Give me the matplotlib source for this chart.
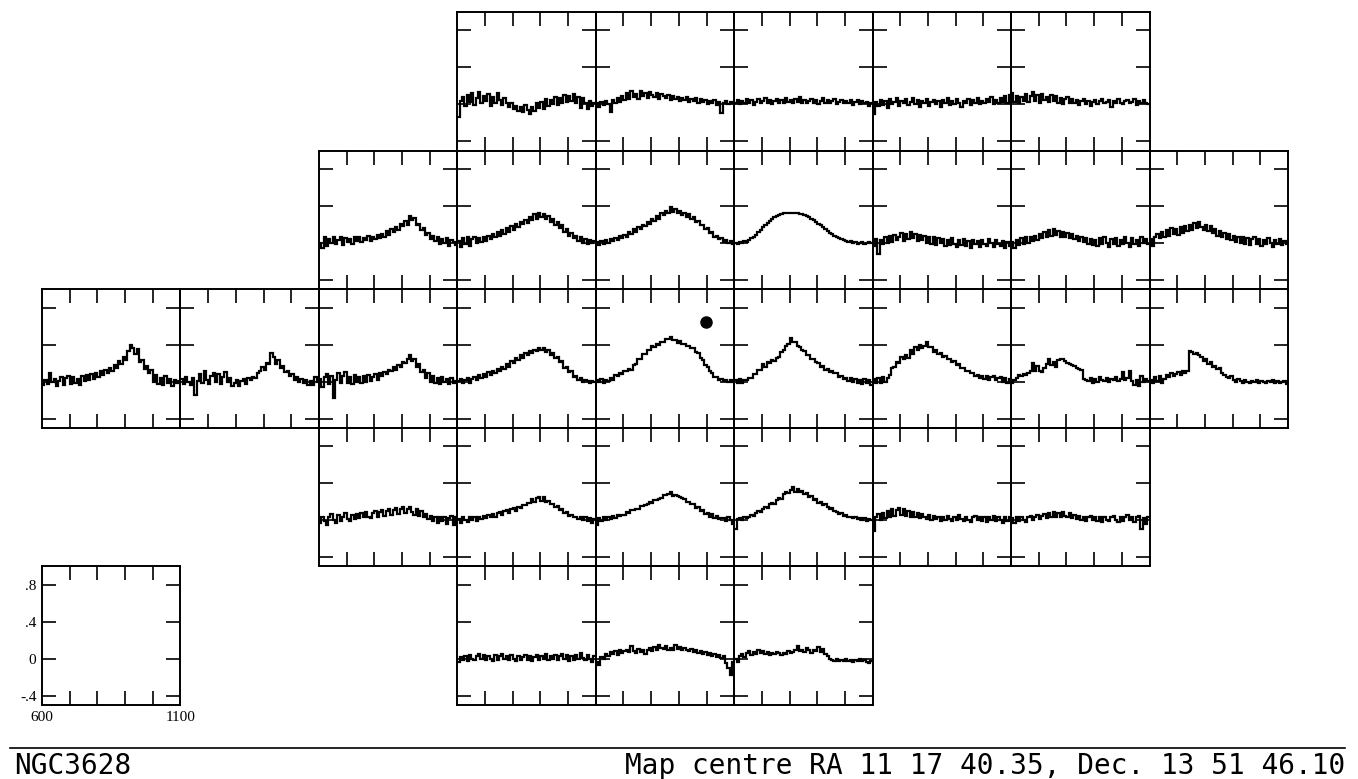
import numpy as np
import matplotlib
matplotlib.use("Agg")
import matplotlib.pyplot as plt
from matplotlib.lines import Line2D

# ---------------- data (antenna temperature per channel, 600-1100 km/s) ----------------
v_min, v_max = 600, 1100
x_ticks = [700, 800, 900, 1000]
y_ticks = [-0.4, 0.0, 0.4, 0.8]
y_tick_labels = ["-.4", "0", ".4", ".8"]
x_label_left, x_label_right = "600", "1100"
title_left = "NGC3628"
title_right = "Map centre RA 11 17 40.35, Dec. 13 51 46.10"
centre_marker = (998, 0.65)   # map-centre dot in central panel

spec_r0_c3 = [-0.14, 0.04, 0.08, -0.02, 0.10, 0.03, 0.12, -0.01, 0.07, 0.13, 0.02, 0.09, 0.04, 0.11, -0.02, 0.08, 0.02, 0.12, 0.05, -0.01, 0.07, 0.01, -0.03, 0.02, -0.05, -0.02, -0.07, -0.03, -0.08, -0.01, -0.06, -0.10, -0.03, -0.07, 0.01, -0.04, 0.03, -0.05, 0.06, -0.02, 0.05, 0.00, 0.08, -0.01, 0.07, 0.02, 0.10, 0.03, 0.09, 0.04, 0.11, 0.02, 0.08, -0.04, 0.07, 0.01, -0.05, 0.04, -0.02, 0.02]
spec_r0_c4 = [0.01, -0.03, 0.03, -0.01, 0.04, 0.00, -0.08, 0.05, 0.02, 0.07, 0.03, 0.09, 0.05, 0.12, 0.06, 0.14, 0.08, 0.11, 0.06, 0.15, 0.09, 0.12, 0.07, 0.13, 0.10, 0.08, 0.12, 0.06, 0.11, 0.09, 0.07, 0.10, 0.05, 0.09, 0.06, 0.08, 0.04, 0.07, 0.05, 0.08, 0.03, 0.06, 0.04, 0.07, 0.02, 0.06, 0.03, 0.05, 0.00, 0.04, 0.02, 0.05, -0.01, 0.03, -0.09, 0.02, 0.04, 0.00, 0.03, 0.01]
spec_r0_c5 = [0.02, 0.05, 0.00, 0.04, 0.01, 0.06, 0.02, 0.05, -0.01, 0.03, 0.06, 0.01, 0.04, 0.07, 0.02, 0.05, 0.00, 0.04, 0.06, 0.01, 0.05, 0.02, 0.07, 0.03, 0.05, 0.01, 0.06, 0.03, 0.08, 0.02, 0.05, 0.01, 0.04, 0.06, 0.02, 0.05, 0.00, 0.04, 0.07, 0.02, 0.05, 0.01, 0.04, 0.06, 0.00, 0.03, 0.05, 0.01, 0.04, 0.02, 0.05, -0.01, 0.03, 0.05, 0.00, 0.04, 0.01, 0.03, -0.02, 0.02]
spec_r0_c6 = [-0.10, 0.03, -0.02, 0.05, -0.01, 0.04, -0.04, 0.06, 0.00, 0.03, 0.07, -0.02, 0.04, 0.01, 0.06, -0.01, 0.03, 0.07, 0.00, 0.05, -0.03, 0.04, 0.01, 0.06, -0.02, 0.03, 0.05, 0.00, 0.04, -0.03, 0.05, 0.02, 0.07, -0.01, 0.04, 0.00, 0.06, 0.02, -0.03, 0.04, 0.01, 0.06, -0.01, 0.05, 0.02, 0.07, 0.00, 0.04, 0.01, 0.06, 0.03, 0.08, 0.00, 0.05, 0.02, 0.07, 0.03, 0.09, 0.02, 0.10]
spec_r0_c7 = [0.12, 0.03, 0.09, 0.02, 0.08, 0.04, 0.11, 0.03, 0.09, 0.13, 0.04, 0.10, 0.02, 0.11, 0.05, 0.08, 0.03, 0.10, 0.04, 0.09, 0.02, 0.07, 0.00, 0.06, 0.08, 0.01, 0.06, 0.02, 0.05, -0.01, 0.04, 0.06, 0.00, 0.04, -0.02, 0.03, 0.05, 0.00, 0.04, 0.06, 0.01, 0.03, 0.05, -0.03, 0.04, 0.01, 0.06, 0.02, 0.00, 0.04, 0.05, 0.01, 0.03, 0.06, -0.01, 0.04, 0.01, 0.05, 0.02, 0.00]

spec_r1_c2 = [0.00, -0.05, 0.06, -0.03, 0.04, 0.00, 0.07, -0.01, 0.03, 0.06, -0.02, 0.05, 0.01, 0.04, -0.01, 0.06, 0.02, 0.07, 0.01, 0.05, 0.03, 0.08, 0.02, 0.06, 0.04, 0.09, 0.05, 0.10, 0.07, 0.13, 0.09, 0.15, 0.12, 0.17, 0.14, 0.21, 0.18, 0.24, 0.20, 0.29, 0.25, 0.27, 0.19, 0.21, 0.14, 0.16, 0.09, 0.11, 0.04, 0.08, 0.02, 0.06, -0.01, 0.04, 0.00, 0.05, -0.03, 0.03, 0.01, -0.02]
spec_r1_c3 = [0.02, -0.04, 0.05, -0.01, 0.06, -0.03, 0.04, 0.07, 0.00, 0.05, 0.01, 0.06, 0.02, 0.08, 0.04, 0.10, 0.06, 0.12, 0.08, 0.14, 0.10, 0.16, 0.12, 0.18, 0.14, 0.21, 0.17, 0.23, 0.21, 0.25, 0.22, 0.28, 0.25, 0.31, 0.26, 0.33, 0.28, 0.31, 0.26, 0.29, 0.23, 0.26, 0.20, 0.23, 0.16, 0.19, 0.12, 0.15, 0.08, 0.11, 0.05, 0.08, 0.02, 0.06, 0.00, 0.04, -0.01, 0.03, 0.00, 0.02]
spec_r1_c4 = [0.01, -0.02, 0.02, -0.01, 0.03, 0.00, 0.04, 0.02, 0.05, 0.03, 0.08, 0.05, 0.09, 0.07, 0.12, 0.10, 0.15, 0.12, 0.17, 0.15, 0.20, 0.18, 0.23, 0.21, 0.26, 0.24, 0.29, 0.26, 0.32, 0.30, 0.35, 0.32, 0.39, 0.34, 0.37, 0.32, 0.35, 0.30, 0.33, 0.28, 0.31, 0.26, 0.28, 0.23, 0.24, 0.19, 0.20, 0.15, 0.16, 0.11, 0.12, 0.07, 0.08, 0.04, 0.05, 0.01, 0.03, 0.00, 0.02, -0.01]
spec_r1_c5 = [0.00, -0.01, 0.01, 0.00, 0.02, 0.01, 0.03, 0.05, 0.07, 0.09, 0.12, 0.14, 0.17, 0.19, 0.22, 0.24, 0.26, 0.28, 0.29, 0.30, 0.31, 0.32, 0.32, 0.33, 0.33, 0.32, 0.33, 0.32, 0.31, 0.31, 0.30, 0.29, 0.28, 0.26, 0.25, 0.23, 0.21, 0.19, 0.17, 0.15, 0.13, 0.11, 0.10, 0.08, 0.06, 0.05, 0.04, 0.03, 0.02, 0.01, 0.02, 0.00, 0.01, -0.01, 0.00, 0.01, -0.01, 0.00, 0.01, 0.00]
spec_r1_c6 = [-0.03, 0.04, -0.12, 0.03, -0.01, 0.06, 0.00, 0.08, 0.01, 0.09, 0.03, 0.07, 0.11, 0.02, 0.10, 0.04, 0.12, 0.05, 0.10, 0.02, 0.09, 0.03, 0.08, 0.00, 0.07, -0.01, 0.06, -0.02, 0.05, 0.00, 0.04, -0.03, 0.03, -0.02, 0.05, -0.01, -0.04, 0.03, -0.02, 0.04, -0.03, 0.02, -0.05, 0.03, -0.01, 0.02, -0.04, 0.03, -0.01, -0.03, 0.04, 0.00, -0.04, 0.03, -0.01, -0.03, 0.02, -0.05, 0.01, -0.03]
spec_r1_c7 = [0.01, -0.05, 0.03, -0.02, 0.05, -0.01, 0.06, 0.00, 0.07, 0.02, 0.08, 0.03, 0.10, 0.05, 0.12, 0.06, 0.14, 0.08, 0.15, 0.09, 0.13, 0.07, 0.12, 0.06, 0.11, 0.05, 0.10, 0.04, 0.08, 0.02, 0.07, 0.01, 0.05, -0.01, 0.04, -0.02, 0.03, -0.03, 0.05, -0.01, 0.06, 0.00, -0.04, 0.04, -0.01, 0.05, -0.03, 0.03, -0.01, 0.06, 0.00, -0.04, 0.05, -0.01, 0.03, -0.03, 0.07, 0.00, 0.04, -0.01]
spec_r1_c8 = [0.04, -0.03, 0.07, 0.10, 0.05, 0.12, 0.06, 0.14, 0.08, 0.16, 0.10, 0.15, 0.09, 0.17, 0.11, 0.18, 0.13, 0.20, 0.14, 0.22, 0.16, 0.23, 0.17, 0.14, 0.20, 0.13, 0.18, 0.11, 0.15, 0.08, 0.13, 0.06, 0.11, 0.04, 0.10, 0.03, 0.08, 0.01, 0.07, 0.00, 0.06, -0.01, 0.05, -0.02, 0.04, 0.06, -0.01, 0.04, -0.03, 0.03, -0.01, 0.05, 0.00, -0.04, 0.03, -0.01, 0.04, -0.02, 0.02, -0.01]

spec_r2_c0 = [-0.04, 0.02, -0.03, 0.09, 0.00, 0.03, -0.05, 0.01, 0.05, -0.04, 0.04, 0.06, -0.03, 0.05, -0.01, 0.03, -0.04, 0.06, 0.01, 0.07, 0.02, 0.08, 0.03, 0.09, 0.05, 0.11, 0.07, 0.13, 0.09, 0.15, 0.12, 0.18, 0.15, 0.22, 0.19, 0.27, 0.23, 0.33, 0.40, 0.36, 0.30, 0.35, 0.21, 0.23, 0.14, 0.17, 0.09, 0.13, 0.00, 0.07, -0.03, 0.04, -0.04, 0.06, -0.02, 0.03, -0.05, 0.02, -0.02, 0.01]
spec_r2_c1 = [0.03, -0.03, 0.05, 0.00, -0.04, 0.04, -0.14, 0.01, 0.08, -0.01, 0.11, 0.02, -0.03, 0.06, 0.09, 0.00, 0.08, -0.03, 0.05, 0.10, 0.00, 0.04, -0.05, -0.01, 0.02, -0.05, 0.01, 0.03, -0.03, 0.04, 0.02, 0.05, 0.04, 0.09, 0.11, 0.16, 0.13, 0.20, 0.19, 0.31, 0.27, 0.19, 0.23, 0.15, 0.17, 0.10, 0.12, 0.06, 0.08, 0.02, 0.05, 0.00, 0.03, -0.01, 0.02, -0.04, 0.01, -0.04, 0.05, 0.00]
spec_r2_c2 = [0.03, -0.06, 0.05, 0.08, -0.03, 0.06, -0.18, 0.02, 0.09, -0.01, 0.06, 0.10, -0.01, 0.05, -0.03, 0.07, 0.00, 0.05, -0.02, 0.06, 0.00, 0.07, 0.01, 0.05, 0.08, 0.02, 0.09, 0.06, 0.10, 0.08, 0.13, 0.11, 0.16, 0.13, 0.18, 0.16, 0.21, 0.20, 0.25, 0.29, 0.22, 0.24, 0.16, 0.19, 0.10, 0.13, 0.04, 0.09, 0.00, 0.06, -0.02, 0.04, -0.03, 0.05, 0.00, 0.03, -0.03, 0.04, -0.02, 0.01]
spec_r2_c3 = [0.01, 0.03, -0.02, 0.02, 0.04, -0.01, 0.03, 0.05, 0.02, 0.07, 0.04, 0.08, 0.05, 0.10, 0.07, 0.12, 0.09, 0.14, 0.11, 0.16, 0.14, 0.19, 0.16, 0.22, 0.20, 0.26, 0.23, 0.29, 0.26, 0.31, 0.29, 0.33, 0.31, 0.34, 0.33, 0.36, 0.34, 0.36, 0.32, 0.34, 0.29, 0.31, 0.26, 0.27, 0.21, 0.22, 0.15, 0.16, 0.10, 0.11, 0.05, 0.06, 0.02, 0.04, 0.00, 0.02, 0.01, -0.01, 0.01, 0.00]
spec_r2_c4 = [0.02, 0.00, 0.03, -0.01, 0.02, 0.01, 0.04, 0.02, 0.07, 0.06, 0.09, 0.08, 0.12, 0.11, 0.14, 0.13, 0.18, 0.19, 0.24, 0.25, 0.30, 0.30, 0.34, 0.34, 0.38, 0.37, 0.41, 0.40, 0.43, 0.43, 0.46, 0.46, 0.48, 0.45, 0.45, 0.42, 0.44, 0.41, 0.41, 0.39, 0.39, 0.36, 0.36, 0.32, 0.31, 0.26, 0.23, 0.18, 0.16, 0.11, 0.09, 0.05, 0.05, 0.02, 0.03, 0.01, 0.02, 0.00, 0.02, 0.00]
spec_r2_c5 = [0.02, -0.02, 0.03, -0.01, 0.02, 0.02, 0.04, 0.04, 0.08, 0.08, 0.13, 0.13, 0.19, 0.16, 0.21, 0.20, 0.23, 0.22, 0.26, 0.27, 0.32, 0.34, 0.39, 0.41, 0.47, 0.43, 0.43, 0.38, 0.37, 0.34, 0.33, 0.29, 0.29, 0.25, 0.25, 0.21, 0.20, 0.16, 0.17, 0.13, 0.14, 0.10, 0.11, 0.09, 0.09, 0.05, 0.06, 0.03, 0.04, 0.01, 0.04, 0.00, 0.03, -0.01, 0.02, -0.03, 0.03, -0.02, 0.02, -0.04]
spec_r2_c6 = [0.03, -0.02, 0.04, -0.01, 0.05, 0.00, 0.04, 0.07, 0.15, 0.16, 0.21, 0.20, 0.27, 0.25, 0.29, 0.26, 0.34, 0.30, 0.37, 0.34, 0.40, 0.36, 0.39, 0.43, 0.37, 0.37, 0.32, 0.34, 0.30, 0.31, 0.27, 0.28, 0.24, 0.25, 0.21, 0.22, 0.18, 0.19, 0.15, 0.15, 0.12, 0.12, 0.09, 0.09, 0.06, 0.07, 0.04, 0.06, 0.03, 0.06, 0.02, 0.05, 0.06, 0.02, 0.04, 0.05, 0.00, 0.04, -0.01, 0.03]
spec_r2_c7 = [-0.01, 0.02, 0.04, 0.07, 0.06, 0.08, 0.07, 0.09, 0.12, 0.20, 0.12, 0.17, 0.11, 0.10, 0.15, 0.19, 0.24, 0.18, 0.21, 0.16, 0.23, 0.25, 0.24, 0.22, 0.20, 0.19, 0.18, 0.17, 0.15, 0.14, 0.13, 0.03, 0.02, 0.01, 0.04, -0.01, 0.03, 0.00, 0.05, 0.02, 0.01, 0.04, 0.00, 0.03, 0.02, 0.05, 0.01, 0.03, 0.10, 0.02, 0.04, 0.11, 0.01, -0.04, 0.02, -0.05, 0.06, 0.00, 0.03, 0.01]
spec_r2_c8 = [0.02, -0.02, 0.05, 0.01, 0.06, -0.01, 0.03, 0.07, 0.05, 0.09, 0.06, 0.08, 0.10, 0.07, 0.11, 0.09, 0.12, 0.33, 0.32, 0.30, 0.31, 0.29, 0.27, 0.22, 0.24, 0.19, 0.21, 0.16, 0.17, 0.14, 0.15, 0.09, 0.07, 0.05, 0.04, 0.06, 0.02, 0.00, 0.03, 0.01, -0.01, 0.02, 0.00, -0.02, 0.01, 0.00, 0.02, -0.01, 0.01, 0.00, -0.02, 0.01, 0.00, 0.02, -0.01, 0.01, -0.02, 0.00, 0.01, -0.03]

spec_r3_c2 = [-0.03, 0.04, -0.01, -0.05, 0.03, 0.07, 0.00, -0.03, 0.06, -0.01, 0.04, 0.08, 0.01, -0.01, 0.06, 0.01, 0.07, 0.02, 0.08, 0.03, 0.09, 0.04, 0.02, 0.08, 0.10, 0.04, 0.09, 0.11, 0.05, 0.10, 0.12, 0.06, 0.11, 0.13, 0.07, 0.12, 0.14, 0.08, 0.12, 0.14, 0.09, 0.06, 0.12, 0.05, 0.10, 0.03, 0.07, 0.01, 0.05, -0.01, 0.04, -0.03, 0.03, -0.01, 0.04, -0.04, 0.02, 0.05, -0.05, 0.03]
spec_r3_c3 = [0.01, -0.03, 0.03, 0.00, -0.02, 0.04, 0.00, 0.03, -0.01, 0.04, 0.01, 0.05, 0.02, 0.06, 0.03, 0.07, 0.04, 0.08, 0.09, 0.06, 0.10, 0.11, 0.08, 0.12, 0.13, 0.10, 0.14, 0.13, 0.16, 0.16, 0.19, 0.19, 0.23, 0.20, 0.24, 0.25, 0.21, 0.25, 0.20, 0.21, 0.17, 0.18, 0.14, 0.15, 0.11, 0.12, 0.08, 0.09, 0.05, 0.06, 0.03, 0.04, 0.01, 0.04, 0.00, 0.03, -0.01, 0.02, -0.03, 0.01]
spec_r3_c4 = [-0.05, 0.02, -0.01, 0.03, 0.00, 0.04, 0.01, 0.05, 0.02, 0.06, 0.05, 0.06, 0.06, 0.09, 0.08, 0.11, 0.11, 0.12, 0.12, 0.15, 0.15, 0.16, 0.17, 0.20, 0.19, 0.22, 0.22, 0.23, 0.24, 0.27, 0.27, 0.28, 0.30, 0.26, 0.27, 0.26, 0.25, 0.24, 0.23, 0.20, 0.20, 0.17, 0.17, 0.13, 0.14, 0.10, 0.11, 0.07, 0.08, 0.04, 0.07, 0.02, 0.05, 0.01, 0.02, 0.02, -0.01, 0.03, 0.00, -0.04]
spec_r3_c5 = [-0.10, 0.01, 0.02, 0.00, 0.03, 0.02, 0.04, 0.06, 0.05, 0.08, 0.10, 0.09, 0.12, 0.14, 0.13, 0.17, 0.19, 0.18, 0.22, 0.24, 0.23, 0.28, 0.30, 0.29, 0.33, 0.36, 0.31, 0.34, 0.30, 0.32, 0.28, 0.29, 0.25, 0.26, 0.22, 0.23, 0.19, 0.20, 0.16, 0.17, 0.14, 0.12, 0.13, 0.10, 0.09, 0.07, 0.08, 0.05, 0.06, 0.03, 0.04, 0.02, 0.03, 0.01, 0.02, 0.00, 0.02, -0.01, 0.01, 0.00]
spec_r3_c6 = [-0.12, 0.03, 0.07, 0.00, 0.08, 0.02, 0.10, 0.04, 0.12, 0.05, 0.11, 0.13, 0.06, 0.12, 0.05, 0.10, 0.04, 0.09, 0.03, 0.08, 0.02, 0.07, 0.03, 0.01, 0.06, 0.00, 0.05, 0.01, 0.04, -0.01, 0.04, 0.00, 0.05, 0.01, -0.01, 0.04, 0.00, 0.06, 0.01, -0.01, 0.04, 0.00, -0.02, 0.03, 0.05, 0.00, 0.04, -0.01, 0.03, -0.02, 0.04, 0.00, 0.05, -0.01, 0.03, 0.00, -0.03, 0.04, -0.01, 0.03]
spec_r3_c7 = [0.02, -0.03, 0.03, -0.01, 0.04, 0.00, -0.02, 0.03, 0.05, 0.00, 0.04, 0.06, 0.01, 0.05, 0.07, 0.02, 0.08, 0.04, 0.09, 0.03, 0.08, 0.04, 0.09, 0.05, 0.03, 0.08, 0.02, 0.06, 0.01, 0.05, 0.00, 0.04, -0.01, 0.03, 0.05, 0.00, 0.04, -0.01, 0.03, -0.02, 0.04, 0.00, -0.01, 0.03, 0.05, 0.00, -0.02, 0.04, -0.01, 0.03, 0.06, 0.00, 0.04, -0.02, 0.03, 0.05, -0.09, 0.02, -0.04, 0.03]

spec_r4_c3 = [-0.03, 0.02, -0.01, 0.03, -0.02, 0.04, 0.00, -0.01, 0.03, 0.05, 0.00, 0.04, -0.01, 0.03, 0.00, -0.02, 0.04, -0.01, 0.03, 0.05, 0.00, 0.03, -0.01, 0.04, 0.00, -0.02, 0.03, -0.01, 0.02, 0.04, -0.01, 0.03, -0.02, 0.02, 0.04, -0.01, 0.03, 0.00, 0.05, -0.01, 0.03, 0.00, 0.04, -0.01, 0.03, 0.05, 0.00, 0.04, -0.02, 0.03, -0.01, 0.04, 0.00, 0.06, 0.01, -0.01, 0.04, 0.00, -0.03, 0.03]
spec_r4_c4 = [-0.03, -0.07, 0.02, 0.00, 0.05, 0.03, 0.07, 0.05, 0.08, 0.04, 0.09, 0.06, 0.08, 0.10, 0.07, 0.14, 0.08, 0.06, 0.11, 0.07, 0.09, 0.05, 0.10, 0.12, 0.08, 0.13, 0.10, 0.15, 0.12, 0.11, 0.14, 0.09, 0.12, 0.10, 0.15, 0.11, 0.13, 0.09, 0.12, 0.10, 0.08, 0.11, 0.07, 0.09, 0.06, 0.08, 0.05, 0.07, 0.04, 0.06, 0.03, 0.05, 0.02, 0.04, 0.01, 0.03, -0.05, -0.10, -0.17, -0.04]
spec_r4_c5 = [0.00, -0.03, 0.03, 0.05, 0.02, 0.06, 0.08, 0.04, 0.07, 0.05, 0.09, 0.06, 0.08, 0.05, 0.07, 0.04, 0.06, 0.05, 0.07, 0.06, 0.04, 0.06, 0.05, 0.08, 0.06, 0.07, 0.09, 0.14, 0.08, 0.10, 0.07, 0.12, 0.09, 0.06, 0.10, 0.08, 0.13, 0.07, 0.11, 0.05, 0.03, 0.00, -0.01, -0.02, 0.00, -0.02, -0.01, -0.02, 0.00, -0.02, -0.01, -0.03, -0.01, -0.02, 0.00, -0.02, -0.01, -0.03, -0.05, -0.02]

# (row, column, spectrum) of the map grid
panels = [
    (0, 3, spec_r0_c3), (0, 4, spec_r0_c4), (0, 5, spec_r0_c5), (0, 6, spec_r0_c6), (0, 7, spec_r0_c7),
    (1, 2, spec_r1_c2), (1, 3, spec_r1_c3), (1, 4, spec_r1_c4), (1, 5, spec_r1_c5),
    (1, 6, spec_r1_c6), (1, 7, spec_r1_c7), (1, 8, spec_r1_c8),
    (2, 0, spec_r2_c0), (2, 1, spec_r2_c1), (2, 2, spec_r2_c2), (2, 3, spec_r2_c3), (2, 4, spec_r2_c4),
    (2, 5, spec_r2_c5), (2, 6, spec_r2_c6), (2, 7, spec_r2_c7), (2, 8, spec_r2_c8),
    (3, 2, spec_r3_c2), (3, 3, spec_r3_c3), (3, 4, spec_r3_c4), (3, 5, spec_r3_c5),
    (3, 6, spec_r3_c6), (3, 7, spec_r3_c7),
    (4, 3, spec_r4_c3), (4, 4, spec_r4_c4), (4, 5, spec_r4_c5),
]
centre_cell = (2, 4)
scale_cell = (4, 0)

# ---------------- layout ----------------
W, H = 1358, 779
fig = plt.figure(figsize=(W / 100, H / 100), dpi=100)
col_edges = np.linspace(42, 1288, 10)
row_edges = np.linspace(12, 705, 6)

LW_SPINE = 1.4
LW_LINE = 1.6


def make_axes(r, c):
    x0, x1 = col_edges[c], col_edges[c + 1]
    y0, y1 = row_edges[r], row_edges[r + 1]
    ax = fig.add_axes([x0 / W, 1 - y1 / H, (x1 - x0) / W, (y1 - y0) / H])
    ax.set_xlim(v_min, v_max)
    ax.set_ylim(-0.5, 1.0)
    ax.set_xticks(x_ticks)
    ax.set_yticks(y_ticks)
    ax.tick_params(direction="in", length=10, width=1.2, top=True, right=True,
                   bottom=True, left=True, labelbottom=False, labelleft=False, color="black")
    for s in ax.spines.values():
        s.set_linewidth(LW_SPINE)
        s.set_color("black")
    ax.patch.set_alpha(0)
    return ax


for r, c, spec in panels:
    ax = make_axes(r, c)
    edges = np.linspace(v_min, v_max, len(spec) + 1)
    ax.stairs(spec, edges, baseline=None, color="black", linewidth=LW_LINE)
    if (r, c) == centre_cell:
        ax.plot([centre_marker[0]], [centre_marker[1]], "o", color="black", markersize=8)

# scale panel
ax = make_axes(*scale_cell)
ax.tick_params(labelleft=True, pad=4)
ax.set_yticklabels(y_tick_labels, fontfamily="Liberation Serif", fontsize=11)
for xv, lab in ((v_min, x_label_left), (v_max, x_label_right)):
    ax.annotate(lab, xy=(xv, 0), xycoords=("data", "axes fraction"),
                xytext=(0, -4), textcoords="offset points", ha="center", va="top",
                fontfamily="Liberation Serif", fontsize=11)

# footer rule and captions
fig.add_artist(Line2D([10 / W, 1345 / W], [1 - 748 / H, 1 - 748 / H],
                      color="black", linewidth=1.2))
fig.text(14 / W, 1 - 774 / H, title_left, ha="left", va="baseline",
         fontfamily="DejaVu Sans Mono", fontsize=20)
fig.text(1345 / W, 1 - 774 / H, title_right, ha="right", va="baseline",
         fontfamily="DejaVu Sans Mono", fontsize=20)

fig.savefig("out.png", dpi=100, facecolor="white")
